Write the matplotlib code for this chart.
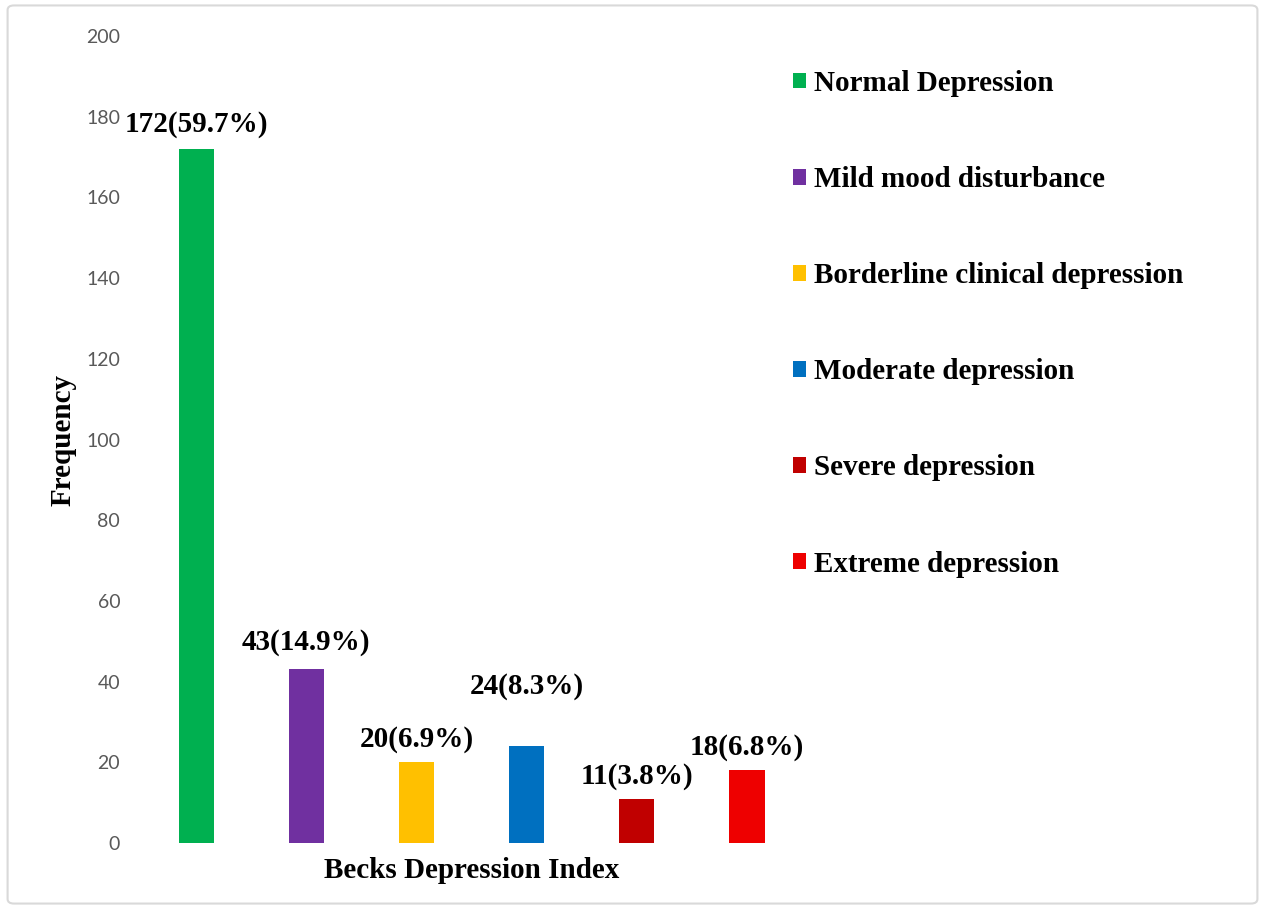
import matplotlib.pyplot as plt
from matplotlib.patches import Patch, FancyBboxPatch

# Data
categories = ['Normal Depression', 'Mild mood disturbance', 'Borderline clinical depression',
              'Moderate depression', 'Severe depression', 'Extreme depression']
frequency = [172, 43, 20, 24, 11, 18]
percent = [59.7, 14.9, 6.9, 8.3, 3.8, 6.8]
yticks = [0, 20, 40, 60, 80, 100, 120, 140, 160, 180, 200]

colors = ['#00B050', '#7030A0', '#FFC000', '#0070C0', '#C00000', '#EE0000']
label_offsets = [8, 10, 7, 33, 6, 7]  # points above bar top

fig = plt.figure(figsize=(12.65, 9.09), dpi=100)
ax = fig.add_axes([0.1115, 0.0726, 0.5225, 0.8878])

xpos = list(range(len(categories)))
ax.bar(xpos, frequency, width=0.32, color=colors)

for x, f, p, off in zip(xpos, frequency, percent, label_offsets):
    ax.annotate(f'{f}({p}%)', (x, f), xytext=(0, off), textcoords='offset points',
                ha='center', va='bottom', fontsize=21, fontweight='bold',
                family='Liberation Serif')

ax.set_xlim(-0.5, len(categories) - 0.5)
ax.set_ylim(0, 200)
ax.set_yticks(yticks)
ax.set_xticks([])
for lbl in ax.get_yticklabels():
    lbl.set_family('Lato')
ax.tick_params(axis='y', length=0, pad=15, labelsize=14, labelcolor='#595959')
for s in ax.spines.values():
    s.set_visible(False)

ax.set_xlabel('Becks Depression Index', fontsize=21, fontweight='bold',
              family='Liberation Serif', labelpad=10)
ax.set_ylabel('Frequency', fontsize=21, fontweight='bold', family='Liberation Serif')
ax.yaxis.set_label_coords(-0.0975, 0.5)

handles = [Patch(facecolor=c, label=n) for c, n in zip(colors, categories)]
fig.legend(handles=handles, loc='upper left', bbox_to_anchor=(0.627, 0.923),
           frameon=False, prop={'family': 'Liberation Serif', 'weight': 'bold', 'size': 21},
           handlelength=0.45, handleheight=0.45, handletextpad=0.25,
           labelspacing=2.37, borderpad=0, borderaxespad=0)

fig.patches.append(FancyBboxPatch((0.006, 0.006), 0.988, 0.988, boxstyle='round,pad=0,rounding_size=0.005',
                                  transform=fig.transFigure, fill=False,
                                  edgecolor='#D9D9D9', linewidth=1.5))

fig.savefig('out.png', dpi=100)
